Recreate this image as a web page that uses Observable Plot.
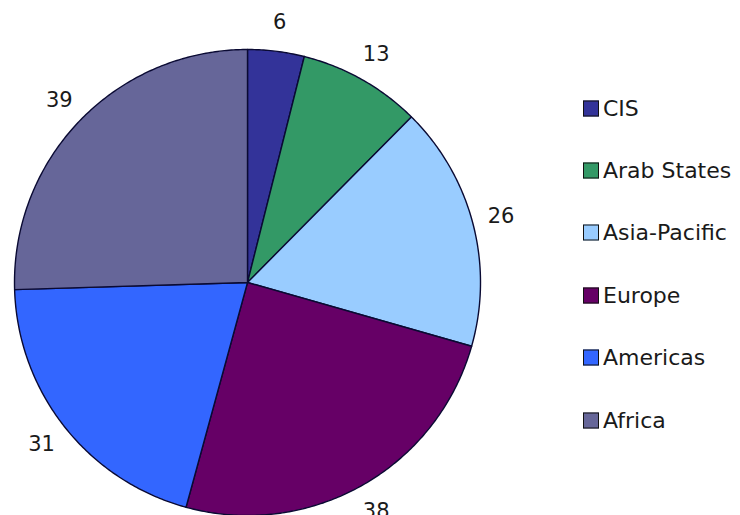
<!DOCTYPE html>
<html>
<head>
<meta charset="utf-8">
<script src="https://cdn.jsdelivr.net/npm/d3@7"></script>
<script src="https://cdn.jsdelivr.net/npm/@observablehq/plot@0.6"></script>
<style>
  body { margin: 0; background: #fff; }
  #wrap { position: relative; width: 740px; height: 515px; overflow: hidden; }
  #legend { position: absolute; left: 583px; top: 0; font-family: "DejaVu Sans", Verdana, sans-serif; font-size: 22px; color: #1a1a1a; }
  .item { position: absolute; white-space: nowrap; display: flex; align-items: center; transform: translateY(-50%); }
  .sw { width: 14px; height: 14px; border: 1.5px solid #111; margin-right: 4px; box-sizing: content-box; }
</style>
</head>
<body>
<div id="wrap"><div id="chart"></div><div id="legend"></div></div>
<script>
const regions = ["CIS", "Arab States", "Asia-Pacific", "Europe", "Americas", "Africa"];
const counts = [6, 13, 26, 38, 31, 39];
const colors = ["#333399", "#339966", "#99CCFF", "#660066", "#3366FF", "#666699"];

const pie = d3.pie().sort(null).value((d, i) => counts[i])(regions);

// polygon outline for each slice (unit circle, angle clockwise from top)
const outline = [];
pie.forEach((s, i) => {
  const name = regions[i];
  outline.push({name, x: 0, y: 0});
  const n = Math.max(2, Math.ceil((s.endAngle - s.startAngle) / 0.01));
  for (let k = 0; k <= n; k++) {
    const a = s.startAngle + (s.endAngle - s.startAngle) * k / n;
    outline.push({name, x: Math.sin(a), y: Math.cos(a)});
  }
  outline.push({name, x: 0, y: 0});
});

const labels = pie.map((s, i) => {
  const a = (s.startAngle + s.endAngle) / 2;
  return {name: regions[i], value: counts[i], x: 1.125 * Math.sin(a), y: 1.125 * Math.cos(a)};
});

const chart = Plot.plot({
  width: 740,
  height: 515,
  marginLeft: 14,
  marginRight: 260,
  marginTop: 49,
  marginBottom: 0,
  x: {domain: [-1, 1], axis: null},
  y: {domain: [-1, 1], axis: null},
  color: {domain: regions, range: colors},
  style: {fontFamily: "'DejaVu Sans', Verdana, sans-serif", background: "#fff"},
  marks: [
    Plot.line(outline, {x: "x", y: "y", z: "name", fill: "name", stroke: "#0a0a33", strokeWidth: 1.4, curve: "linear", strokeLinejoin: "round"}),
    Plot.text(labels, {x: "x", y: "y", text: d => String(d.value), fontSize: 21, fill: "#1a1a1a"})
  ]
});
document.getElementById("chart").appendChild(chart);

const legendTops = [108, 170, 232, 295, 357, 420];
const lg = document.getElementById("legend");
regions.forEach((r, i) => {
  const it = document.createElement("div");
  it.className = "item";
  it.style.top = legendTops[i] + "px";
  it.innerHTML = `<span class="sw" style="background:${colors[i]}"></span><span>${r}</span>`;
  lg.appendChild(it);
});
</script>
</body>
</html>
